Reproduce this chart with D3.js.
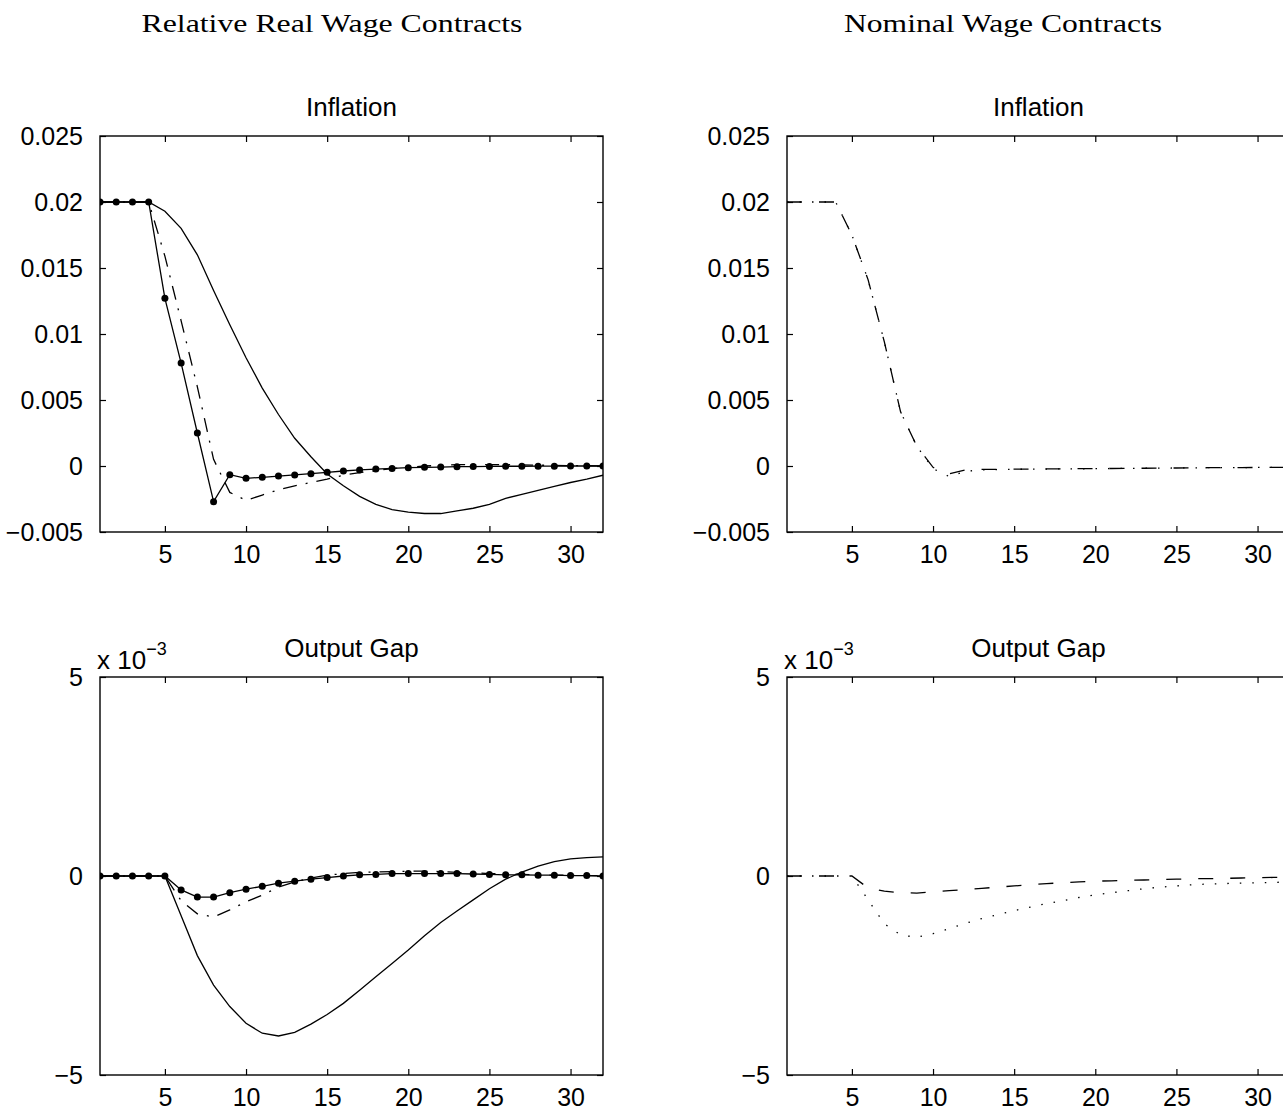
<!DOCTYPE html>
<html>
<head>
<meta charset="utf-8">
<script src="https://cdn.jsdelivr.net/npm/d3@7.9.0/dist/d3.min.js"></script>
<style>
  body { margin: 0; background: #fff; }
  svg { display: block; }
</style>
</head>
<body>
<svg id="chart" width="1283" height="1112"></svg>
<script>
// periods on the x axis
const periods = d3.range(1, 33);
const xTicks = [5, 10, 15, 20, 25, 30];

const inflTicks = [-0.005, 0, 0.005, 0.01, 0.015, 0.02, 0.025];
const gapTicks = [-5, 0, 5]; // output gap is in units of 1e-3

// relative real wage contracts - inflation
const relInflDots = [0.02, 0.02, 0.02, 0.02, 0.0127, 0.0078, 0.0025, -0.0027, -0.00066, -0.00093,
  -0.00086, -0.00076, -0.00068, -0.00058, -0.00048, -0.00038, -0.0003, -0.00023, -0.00018, -0.00013,
  -0.0001, -0.00008, -0.00005, -0.00004, -0.00003, -0.00002, -0.00002, -0.00001, -0.00001, 0, 0, 0];
const relInflSolid = [0.02, 0.02, 0.02, 0.02, 0.0193, 0.018, 0.016, 0.0133, 0.0107, 0.0082,
  0.0059, 0.0039, 0.0021, 0.0007, -0.0006, -0.0015, -0.0023, -0.0029, -0.0033, -0.0035,
  -0.0036, -0.0036, -0.0034, -0.0032, -0.0029, -0.00245, -0.00215, -0.00185, -0.00155, -0.00125,
  -0.001, -0.0007];
const relInflDashDot = [0.02, 0.02, 0.02, 0.02, 0.0159, 0.011, 0.006, 0.0005, -0.002, -0.0026,
  -0.0022, -0.0018, -0.0015, -0.00125, -0.001, -0.0007, -0.0005, -0.00035, -0.0002, -0.0001,
  0, 0.00005, 0.0001, 0.0001, 0.0001, 0.0001, 0.00008, 0.00006, 0.00005, 0.00003, 0.00002, 0];

// relative real wage contracts - output gap (x 1e-3)
const relGapDots = [0, 0, 0, 0, 0, -0.35, -0.53, -0.53, -0.42, -0.33,
  -0.26, -0.18, -0.13, -0.08, -0.04, 0, 0.03, 0.04, 0.06, 0.06,
  0.06, 0.06, 0.06, 0.05, 0.04, 0.03, 0.03, 0.02, 0.02, 0.01, 0.01, 0];
const relGapSolid = [0, 0, 0, 0, 0, -1.0, -2.0, -2.74, -3.28, -3.7,
  -3.95, -4.02, -3.93, -3.72, -3.48, -3.2, -2.87, -2.53, -2.2, -1.86,
  -1.5, -1.17, -0.88, -0.6, -0.32, -0.08, 0.1, 0.25, 0.36, 0.43, 0.46, 0.48];
const relGapDashDot = [0, 0, 0, 0, 0, -0.62, -0.95, -1.03, -0.85, -0.65,
  -0.48, -0.28, -0.15, -0.05, 0.02, 0.06, 0.09, 0.1, 0.11, 0.12,
  0.12, 0.11, 0.09, 0.08, 0.06, 0.05, 0.04, 0.03, 0.02, 0.02, 0.01, 0.01];

// nominal wage contracts - inflation
const nomInflDashed = [0.02, 0.02, 0.02, 0.02, 0.0175, 0.0141, 0.0094, 0.0041, 0.0015, -0.0001,
  -0.0006, -0.0003, -0.00025, -0.00025, -0.00024, -0.00023, -0.00022, -0.00021, -0.0002, -0.0002,
  -0.00019, -0.00018, -0.00017, -0.00016, -0.00015, -0.00014, -0.00013, -0.00012, -0.00012, -0.00011,
  -0.0001, -0.0001];
const nomInflDotted = [0.02, 0.02, 0.02, 0.02, 0.0175, 0.0141, 0.0094, 0.0041, 0.0015, -0.0002,
  -0.0008, -0.0004, -0.0003, -0.00027, -0.00025, -0.00024, -0.00023, -0.00022, -0.00021, -0.0002,
  -0.00019, -0.00018, -0.00017, -0.00016, -0.00015, -0.00014, -0.00013, -0.00012, -0.00012, -0.00011,
  -0.0001, -0.0001];

// nominal wage contracts - output gap (x 1e-3)
const nomGapDashed = [0, 0, 0, 0, 0, -0.3, -0.38, -0.42, -0.43, -0.4,
  -0.37, -0.34, -0.31, -0.28, -0.25, -0.22, -0.19, -0.17, -0.15, -0.13,
  -0.12, -0.11, -0.1, -0.09, -0.08, -0.07, -0.065, -0.06, -0.05, -0.045, -0.035, -0.03];
const nomGapDotted = [0, 0, 0, 0, 0, -0.6, -1.2, -1.48, -1.54, -1.45,
  -1.32, -1.19, -1.07, -0.97, -0.87, -0.78, -0.69, -0.62, -0.54, -0.47,
  -0.42, -0.37, -0.32, -0.28, -0.25, -0.22, -0.2, -0.19, -0.18, -0.17, -0.16, -0.15];

const columnTitles = ['Relative Real Wage Contracts', 'Nominal Wage Contracts'];


const svg = d3.select('#chart');
const sans = 'Liberation Sans, Arial, sans-serif';
const serif = 'Liberation Serif, Times New Roman, serif';

const panelW = 503;
const dashes = {
  solid: null,
  dashdot: '14,9,2,9',
  dashed: '15,17',
  dotted: '1.5,11',
};

const fmtInfl = (d) => (d === 0 ? '0' : String(+d.toFixed(3)).replace('-', '\u2212'));
const fmtGap = (d) => String(d).replace('-', '\u2212');

const panels = [
  { name: 'a', title: 'Inflation', left: 100, top: 136, h: 396, domain: [-0.005, 0.025], ticks: inflTicks, fmt: fmtInfl,
    series: [[relInflSolid, 'solid'], [relInflDashDot, 'dashdot'], [relInflDots, 'solid', true]] },
  { name: 'b', title: 'Output Gap', left: 100, top: 677, h: 398, domain: [-5, 5], ticks: gapTicks, fmt: fmtGap, exp: true,
    series: [[relGapSolid, 'solid'], [relGapDashDot, 'dashdot'], [relGapDots, 'solid', true]] },
  { name: 'c', title: 'Inflation', left: 787, top: 136, h: 396, domain: [-0.005, 0.025], ticks: inflTicks, fmt: fmtInfl,
    series: [[nomInflDotted, 'dotted'], [nomInflDashed, 'dashed']] },
  { name: 'd', title: 'Output Gap', left: 787, top: 677, h: 398, domain: [-5, 5], ticks: gapTicks, fmt: fmtGap, exp: true,
    series: [[nomGapDotted, 'dotted'], [nomGapDashed, 'dashed']] },
];

panels.forEach((p) => {
  const x = d3.scaleLinear().domain([1, 32]).range([p.left, p.left + panelW]);
  const y = d3.scaleLinear().domain(p.domain).range([p.top + p.h, p.top]);

  svg.append('clipPath').attr('id', 'clip-' + p.name)
    .append('rect')
    .attr('x', p.left).attr('y', p.top)
    .attr('width', panelW).attr('height', p.h);

  const g = svg.append('g');

  // axes - ticks point inward like matlab
  const bottom = g.append('g')
    .attr('transform', `translate(0,${p.top + p.h})`)
    .call(d3.axisBottom(x).tickValues(xTicks).tickSizeInner(-6).tickSizeOuter(0).tickPadding(13));
  g.append('g')
    .attr('transform', `translate(0,${p.top})`)
    .call(d3.axisTop(x).tickValues(xTicks).tickSizeInner(-6).tickSizeOuter(0).tickFormat(''));
  const leftAx = g.append('g')
    .attr('transform', `translate(${p.left},0)`)
    .call(d3.axisLeft(y).tickValues(p.ticks).tickSizeInner(-6).tickSizeOuter(0).tickPadding(17).tickFormat(p.fmt));
  g.append('g')
    .attr('transform', `translate(${p.left + panelW},0)`)
    .call(d3.axisRight(y).tickValues(p.ticks).tickSizeInner(-6).tickSizeOuter(0).tickFormat(''));

  g.selectAll('.domain').remove();
  g.selectAll('.tick line').attr('stroke', '#000').attr('stroke-width', 1.2);
  [bottom, leftAx].forEach((ax) => ax.selectAll('text')
    .attr('font-family', sans).attr('font-size', 25).attr('fill', '#000'));

  g.append('rect')
    .attr('x', p.left).attr('y', p.top)
    .attr('width', panelW).attr('height', p.h)
    .attr('fill', 'none').attr('stroke', '#000').attr('stroke-width', 1.4);

  // subplot title
  g.append('text')
    .attr('x', p.left + panelW / 2).attr('y', p.top - 20)
    .attr('text-anchor', 'middle')
    .attr('font-family', sans).attr('font-size', 26)
    .text(p.title);

  if (p.exp) {
    const t = g.append('text')
      .attr('x', p.left - 3).attr('y', p.top - 8)
      .attr('font-family', sans).attr('font-size', 26);
    t.append('tspan').text('x 10');
    t.append('tspan').attr('font-size', 18).attr('dy', -14).text('\u22123');
  }

  const line = d3.line().x((d, i) => x(periods[i])).y((d) => y(d));
  const plot = g.append('g').attr('clip-path', `url(#clip-${p.name})`);

  p.series.forEach(([vals, style, markers]) => {
    plot.append('path')
      .datum(vals)
      .attr('d', line)
      .attr('fill', 'none')
      .attr('stroke', '#000')
      .attr('stroke-width', 1.3)
      .attr('stroke-dasharray', dashes[style]);

    if (markers) {
      plot.selectAll(null)
        .data(vals)
        .enter()
        .append('circle')
        .attr('cx', (d, i) => x(periods[i]))
        .attr('cy', (d) => y(d))
        .attr('r', 3.5)
        .attr('fill', '#000');
    }
  });
});

// column headings
svg.selectAll('.coltitle')
  .data(columnTitles)
  .enter()
  .append('text')
  .attr('class', 'coltitle')
  .attr('x', (d, i) => (i === 0 ? 332 : 1003))
  .attr('y', 32)
  .attr('text-anchor', 'middle')
  .attr('font-family', serif)
  .attr('font-size', 25)
  .attr('textLength', (d, i) => (i === 0 ? 381 : 318))
  .attr('lengthAdjust', 'spacingAndGlyphs')
  .text((d) => d);
</script>
</body>
</html>
